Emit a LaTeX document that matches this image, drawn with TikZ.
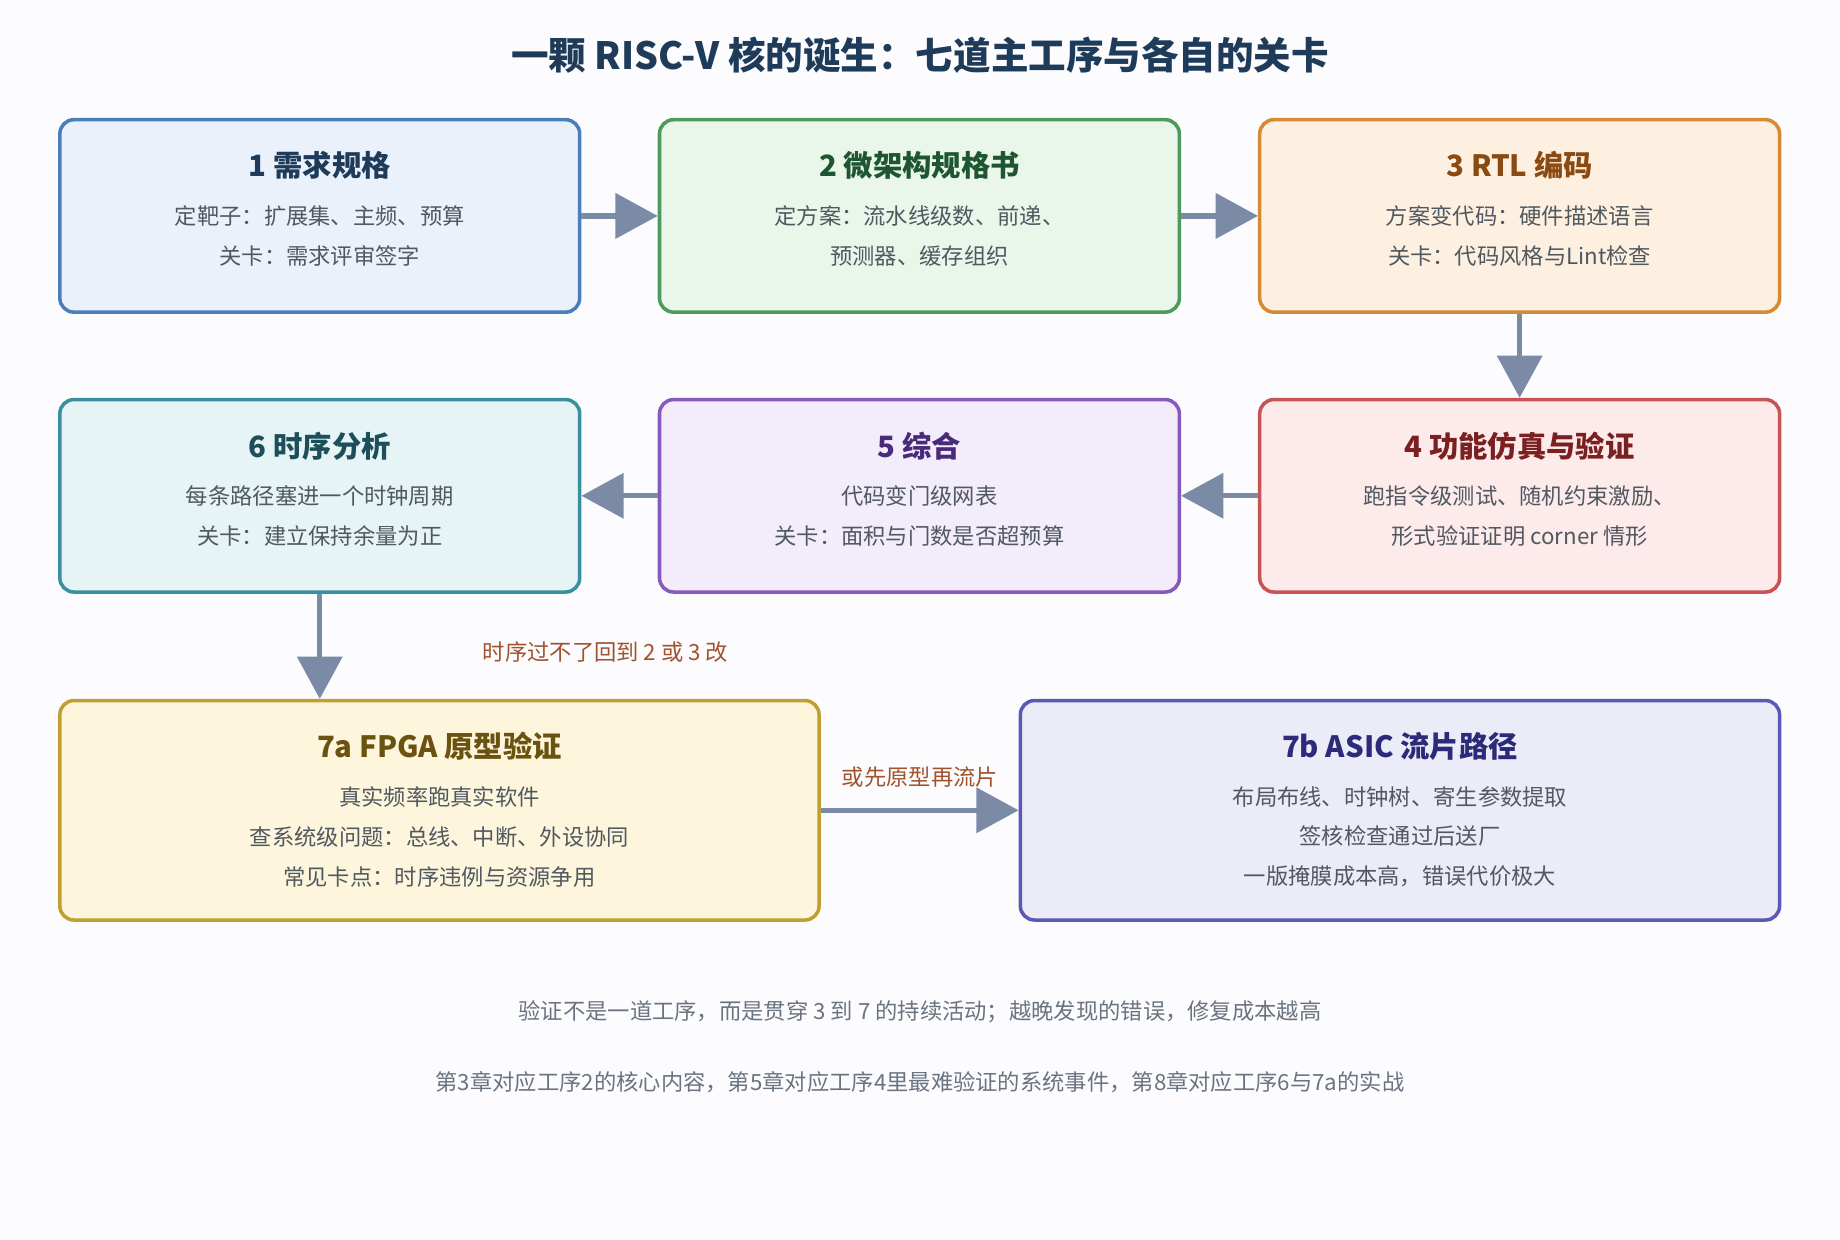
\documentclass[tikz,border=0pt]{standalone}
\usepackage{fontspec}
\setmainfont{Noto Sans CJK SC}
\usetikzlibrary{arrows.meta, positioning}
\definecolor{bgc}{HTML}{FCFCFE}
\definecolor{titlec}{HTML}{1F3B5A}
\definecolor{arrowc}{HTML}{7B8BA6}
\definecolor{bodyc}{HTML}{505860}
\definecolor{notec}{HTML}{A0522D}
\definecolor{footc}{HTML}{6A7480}
\tikzset{
  stage/.style={draw, rounded corners=6pt, line width=1.5pt, minimum width=221.5pt, minimum height=82pt},
  wide/.style={stage, minimum width=323.5pt, minimum height=93.5pt},
  head/.style={font=\bfseries\fontsize{12.5}{15}\selectfont},
  body/.style={text=bodyc, align=center, font=\fontsize{9.5}{17}\selectfont},
  flow/.style={draw=arrowc, line width=2.2pt, -{Triangle[length=18pt,width=19pt]}},
}
\begin{document}
\begin{tikzpicture}[x=0.5pt,y=-0.5pt]
\fill[bgc] (0,0) rectangle (1568,1056);
\useasboundingbox (0,0) rectangle (1568,1056);

% Title
\node[text=titlec] (title) at (784,47) {\bfseries\fontsize{16}{19}\selectfont 一颗 RISC-V 核的诞生：七道主工序与各自的关卡};

% Row 1
\node[stage, draw={rgb,255:red,74;green,126;blue,187}, fill={rgb,255:red,234;green,241;blue,251}] (s1) at (272.5,184) {};
\node[stage, draw={rgb,255:red,78;green,154;blue,94}, fill={rgb,255:red,234;green,246;blue,234}] (s2) at (783.5,184) {};
\node[stage, draw={rgb,255:red,214;green,138;blue,54}, fill={rgb,255:red,254;green,240;blue,224}] (s3) at (1295,184) {};
% Row 2
\node[stage, draw={rgb,255:red,58;green,143;blue,160}, fill={rgb,255:red,230;green,244;blue,246}] (s6) at (272.5,422.5) {};
\node[stage, draw={rgb,255:red,134;green,89;blue,191}, fill={rgb,255:red,243;green,236;blue,250}] (s5) at (783.5,422.5) {};
\node[stage, draw={rgb,255:red,198;green,84;blue,84}, fill={rgb,255:red,253;green,234;blue,234}] (s4) at (1295,422.5) {};
% Row 3
\node[wide, draw={rgb,255:red,191;green,159;blue,48}, fill={rgb,255:red,254;green,246;blue,220}] (s7a) at (374.5,690.5) {};
\node[wide, draw={rgb,255:red,91;green,89;blue,181}, fill={rgb,255:red,236;green,235;blue,248}] (s7b) at (1193,690.5) {};

% Text Node
\node[head, text={rgb,255:red,31;green,59;blue,90}] at (272.5,141) {1 需求规格};
\node[body] at (272.5,201) {定靶子：扩展集、主频、预算\\关卡：需求评审签字};
\node[head, text={rgb,255:red,30;green,86;blue,49}] at (783.5,141) {2 微架构规格书};
\node[body] at (783.5,201) {定方案：流水线级数、前递、\\预测器、缓存组织};
\node[head, text={rgb,255:red,138;green,74;blue,18}] at (1295,141) {3 RTL 编码};
\node[body] at (1295,201) {方案变代码：硬件描述语言\\关卡：代码风格与Lint检查};
\node[head, text={rgb,255:red,29;green,79;blue,90}] at (272.5,380) {6 时序分析};
\node[body] at (272.5,440) {每条路径塞进一个时钟周期\\关卡：建立保持余量为正};
\node[head, text={rgb,255:red,74;green,42;blue,122}] at (783.5,380) {5 综合};
\node[body] at (783.5,440) {代码变门级网表\\关卡：面积与门数是否超预算};
\node[head, text={rgb,255:red,122;green,32;blue,32}] at (1295,380) {4 功能仿真与验证};
\node[body] at (1295,440) {跑指令级测试、随机约束激励、\\形式验证证明 corner 情形};
\node[head, text={rgb,255:red,106;green,82;blue,16}] at (374.5,636) {7a FPGA 原型验证};
\node[body] at (374.5,713) {真实频率跑真实软件\\查系统级问题：总线、中断、外设协同\\常见卡点：时序违例与资源争用};
\node[head, text={rgb,255:red,45;green,42;blue,122}] at (1193,636) {7b ASIC 流片路径};
\node[body] at (1193,713) {布局布线、时钟树、寄生参数提取\\签核检查通过后送厂\\一版掩膜成本高，错误代价极大};

% Connectors
\draw[flow] (s1.east) -- (s2.west);
\draw[flow] (s2.east) -- (s3.west);
\draw[flow] (s3.south) -- (s4.north);
\draw[flow] (s4.west) -- (s5.east);
\draw[flow] (s5.west) -- (s6.east);
\draw[flow] (s6.south) -- (s7a.north -| s6.south);
\draw[flow] (s7a.east) -- (s7b.west);
\node[text=notec, font=\fontsize{9.5}{11}\selectfont] (back) at (516,556) {时序过不了回到 2 或 3 改};
\node[text=notec, font=\fontsize{9.5}{11}\selectfont] (proto) at (784,662) {或先原型再流片};

% Footer
\node[text=footc, font=\fontsize{9.5}{11}\selectfont] (foot1) at (784,862) {验证不是一道工序，而是贯穿 3 到 7 的持续活动；越晚发现的错误，修复成本越高};
\node[text=footc, font=\fontsize{9.5}{11}\selectfont] (foot2) at (784,922) {第3章对应工序2的核心内容，第5章对应工序4里最难验证的系统事件，第8章对应工序6与7a的实战};
\end{tikzpicture}
\end{document}
